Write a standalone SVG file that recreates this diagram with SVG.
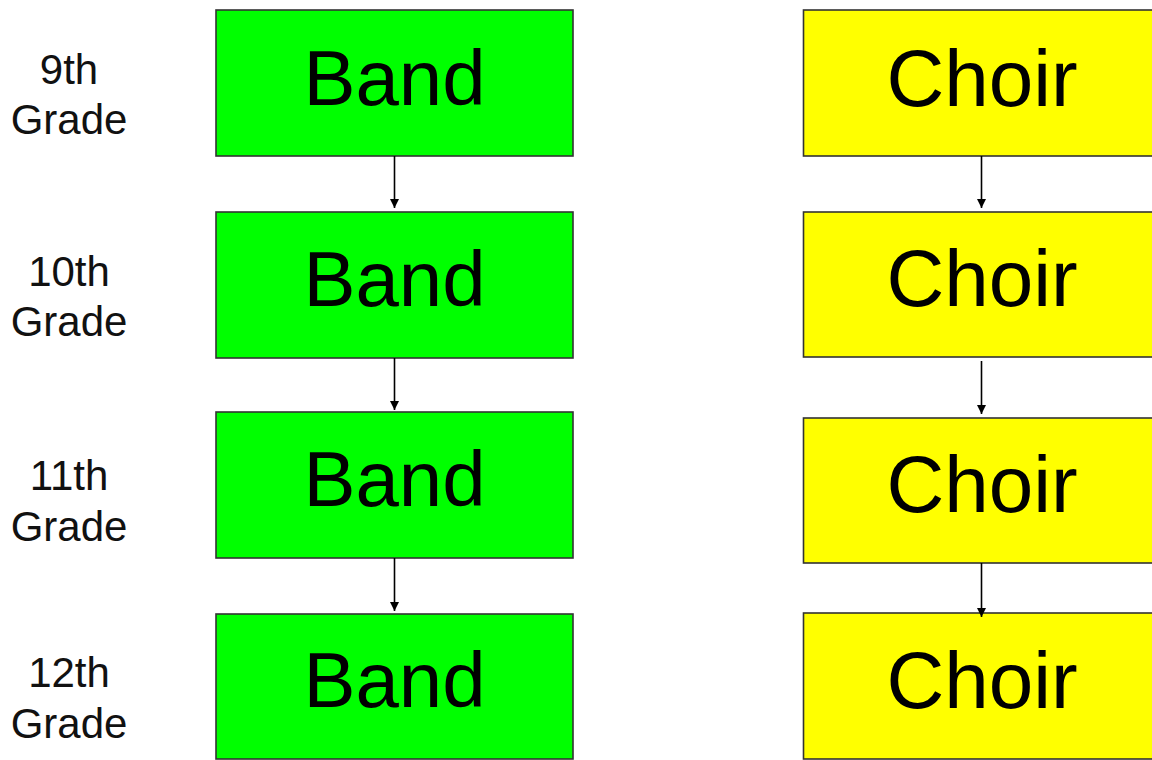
<svg xmlns="http://www.w3.org/2000/svg" width="1152" height="760" viewBox="0 0 1152 760">
<style>
.band{fill:#00ff00;stroke:#333;stroke-width:1.6}
.choir{fill:#ffff00;stroke:#333;stroke-width:1.6}
.big{font-family:"Liberation Sans",Arial,sans-serif;font-size:78px;fill:#000;text-anchor:middle}
.bigc{font-size:80px}
.lbl{font-family:"Liberation Sans",Arial,sans-serif;font-size:42px;fill:#111;text-anchor:middle}
.conn{stroke:#000;stroke-width:1.6;fill:none;marker-end:url(#ah)}
</style>
<defs>
<marker id="ah" markerWidth="9" markerHeight="9" refX="9" refY="4.5" orient="auto" markerUnits="userSpaceOnUse">
<path d="M0,0 L9,4.5 L0,9 Z" fill="#000"/>
</marker>
</defs>
<rect width="1152" height="760" fill="#fff"/>
<g id="labels">
<g id="g9"><text class="lbl" x="69" y="84">9th</text><text class="lbl" x="69" y="134">Grade</text></g>
<g id="g10"><text class="lbl" x="69" y="286">10th</text><text class="lbl" x="69" y="336">Grade</text></g>
<g id="g11"><text class="lbl" x="69" y="490">11th</text><text class="lbl" x="69" y="541">Grade</text></g>
<g id="g12"><text class="lbl" x="69" y="687">12th</text><text class="lbl" x="69" y="738">Grade</text></g>
</g>
<g id="band1"><rect class="band" x="216" y="10" width="357" height="146"/><text class="big" x="394.5" y="105">Band</text></g>
<g id="band2"><rect class="band" x="216" y="212" width="357" height="146"/><text class="big" x="394.5" y="306">Band</text></g>
<g id="band3"><rect class="band" x="216" y="412" width="357" height="146"/><text class="big" x="394.5" y="506">Band</text></g>
<g id="band4"><rect class="band" x="216" y="614" width="357" height="145"/><text class="big" x="394.5" y="707">Band</text></g>
<g id="choir1"><rect class="choir" x="803.5" y="10" width="360" height="146"/><text class="big bigc" x="982" y="106">Choir</text></g>
<g id="choir2"><rect class="choir" x="803.5" y="212" width="360" height="145"/><text class="big bigc" x="982" y="306">Choir</text></g>
<g id="choir3"><rect class="choir" x="803.5" y="418" width="360" height="145"/><text class="big bigc" x="982" y="512">Choir</text></g>
<g id="choir4"><rect class="choir" x="803.5" y="613" width="360" height="146"/><text class="big bigc" x="982" y="708">Choir</text></g>
<g id="connectors">
<line class="conn" x1="394.5" y1="156" x2="394.5" y2="208"/>
<line class="conn" x1="394.5" y1="358" x2="394.5" y2="410"/>
<line class="conn" x1="394.5" y1="558" x2="394.5" y2="611"/>
<line class="conn" x1="981.5" y1="156" x2="981.5" y2="208"/>
<line class="conn" x1="981.5" y1="361" x2="981.5" y2="414"/>
<line class="conn" x1="981.5" y1="563" x2="981.5" y2="617"/>
</g>
</svg>
